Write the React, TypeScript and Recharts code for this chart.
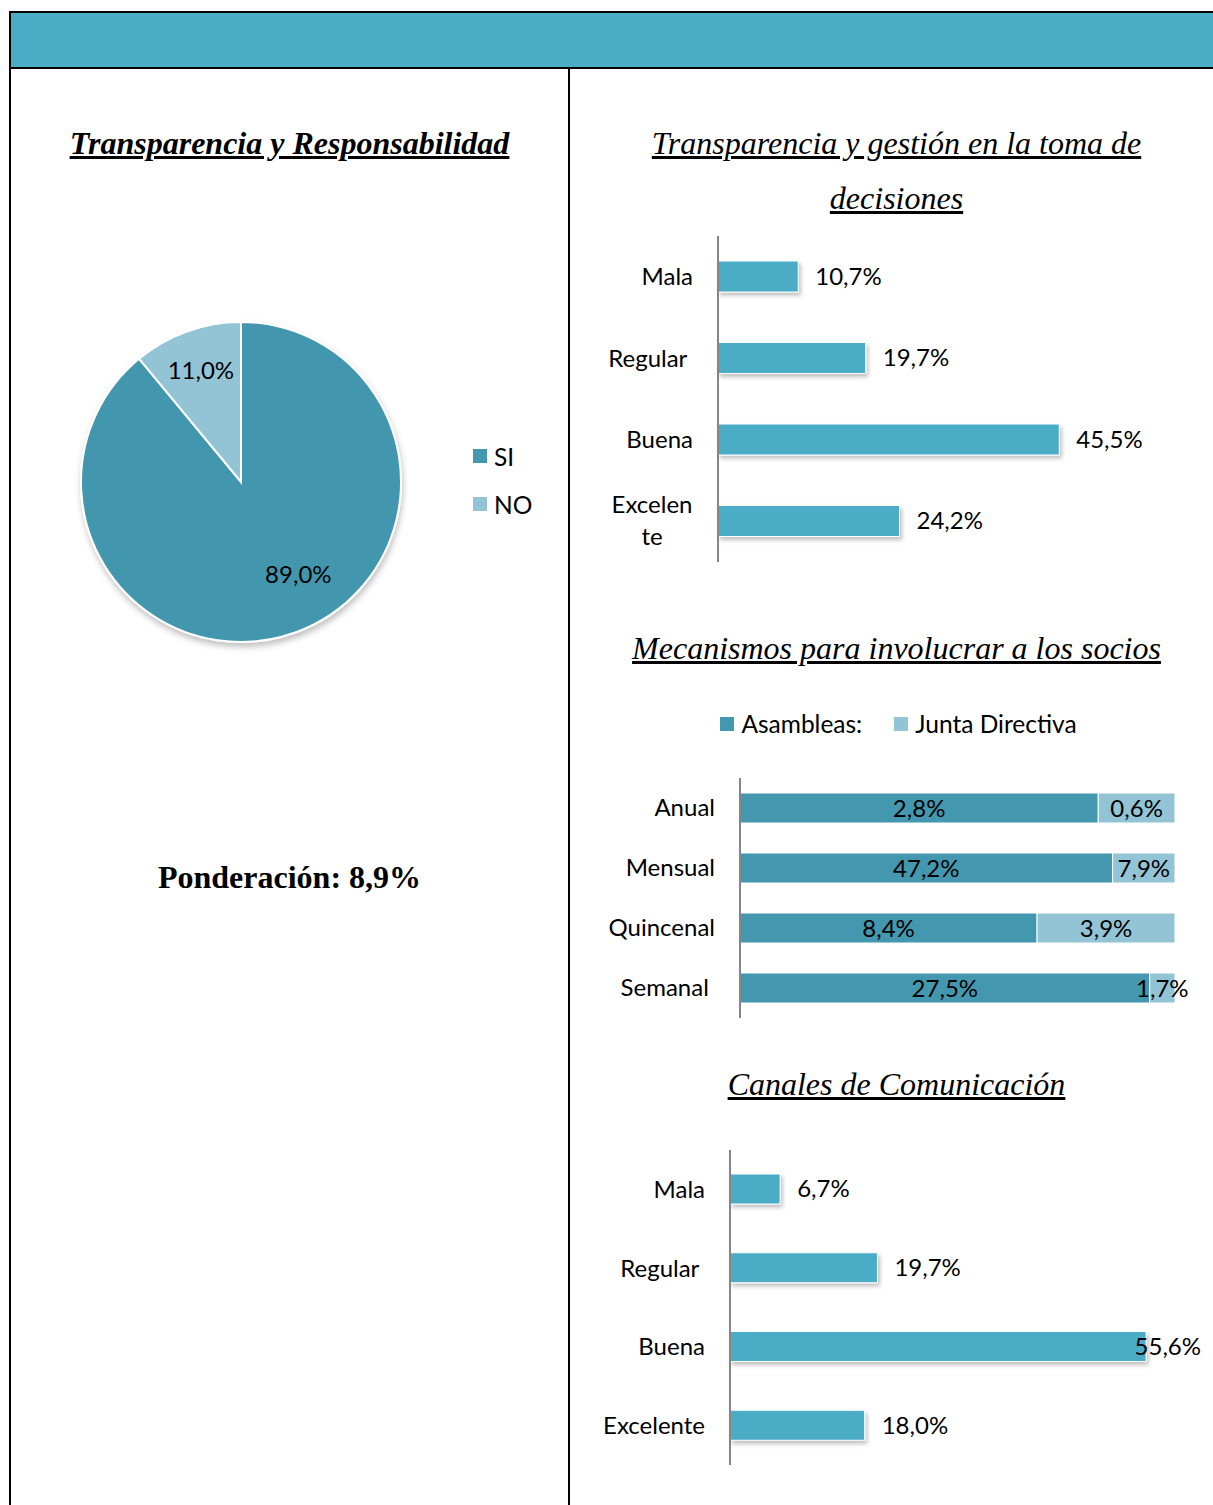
import React from 'react';
import { BarChart, Bar, XAxis, YAxis, PieChart, Pie, Cell, Legend, LabelList } from 'recharts';

const FONT = 'Lato, "Open Sans", sans-serif';
const SERIF = '"Liberation Serif", "Times New Roman", serif';

// Transparencia y Responsabilidad (pie)
const pieNames = ['SI', 'NO'];
const pieValues = [89.0, 11.0];
const pieColors = ['#4397AE', '#93C4D5'];

// Transparencia y gestión en la toma de decisiones
const gestionCats = ['Mala', 'Regular ', 'Buena', 'Excelente'];
const gestionVals = [10.7, 19.7, 45.5, 24.2];

// Mecanismos para involucrar a los socios
const mecCats = ['Anual', 'Mensual', 'Quincenal', 'Semanal '];
const asambleasVals = [2.8, 47.2, 8.4, 27.5];
const juntaVals = [0.6, 7.9, 3.9, 1.7];

// Canales de Comunicación
const canalesCats = ['Mala', 'Regular ', 'Buena', 'Excelente'];
const canalesVals = [6.7, 19.7, 55.6, 18.0];

const BAR_COLOR = '#4BACC6';
const AXIS_COLOR = '#868686';

const fmt = (v: number) => v.toFixed(1).replace('.', ',') + '%';

const pieData = pieNames.map((name, i) => ({ name, value: pieValues[i] }));
const gestionData = gestionCats.map((cat, i) => ({ cat, value: gestionVals[i] }));
const mecData = mecCats.map((cat, i) => ({ cat, asambleas: asambleasVals[i], junta: juntaVals[i] }));
const canalesData = canalesCats.map((cat, i) => ({ cat, value: canalesVals[i] }));

// category tick; long words get broken like Excel does ("Excelen" / "te")
function CatTick({ x, y, payload, wrap }: any) {
  const text: string = payload.value;
  const style = { fontFamily: FONT, fontSize: 24, fill: '#000', whiteSpace: 'pre' as const };
  if (wrap && text.length > 8) {
    const lines = [text.slice(0, 7), text.slice(7)];
    const cx = x - 41;
    return (
      <text x={cx} y={y} textAnchor="middle" style={style}>
        <tspan x={cx} dy={-8}>{lines[0]}</tspan>
        <tspan x={cx} dy={32}>{lines[1]}</tspan>
      </text>
    );
  }
  return (
    <text x={x} y={y} dy="0.35em" textAnchor="end" style={style}>
      {text}
    </text>
  );
}

// value label to the right of the bar, pulled back inside the chart if it would overflow
const makeValueLabel = (limit: number) => (props: any) => {
  const { x, y, width, height, value } = props;
  const label = fmt(value);
  let tx = x + width + 17;
  let anchor: 'start' | 'end' = 'start';
  if (tx + label.length * 13 > limit) {
    tx = limit;
    anchor = 'end';
  }
  return (
    <text x={tx} y={y + height / 2} dy="0.35em" textAnchor={anchor}
      style={{ fontFamily: FONT, fontSize: 24, fill: '#000' }}>
      {label}
    </text>
  );
};

function SquareLegend({ payload, vertical, gap, order }: any) {
  let items = [...(payload || [])];
  if (order) items.sort((a: any, b: any) => order.indexOf(a.value) - order.indexOf(b.value));
  return (
    <div style={{
      display: 'flex', flexDirection: vertical ? 'column' : 'row',
      justifyContent: 'center', gap, fontFamily: FONT, fontSize: 24.5, lineHeight: '29px',
    }}>
      {items.map((p: any) => (
        <div key={p.value} style={{ display: 'flex', alignItems: 'center' }}>
          <span style={{ display: 'inline-block', width: 14, height: 14, background: p.color, marginRight: 7 }} />
          <span>{p.value}</span>
        </div>
      ))}
    </div>
  );
}

const renderPieLabel = ({ cx, cy, midAngle, outerRadius, value, percent }: any) => {
  const RAD = Math.PI / 180;
  // big slice label sits a bit further round, like Excel's best-fit placement
  const angle = percent > 0.5 ? midAngle + 12 : midAngle;
  const r = outerRadius * (percent > 0.5 ? 0.68 : 0.74);
  const x = cx + r * Math.cos(-angle * RAD);
  const y = cy + r * Math.sin(-angle * RAD);
  return (
    <text x={x} y={y} dy="0.35em" textAnchor="middle" style={{ fontFamily: FONT, fontSize: 24, fill: '#000' }}>
      {fmt(value)}
    </text>
  );
};

const ShadowDefs = () => (
  <defs>
    <filter id="barShadow" x="-5%" y="-20%" width="115%" height="160%">
      <feDropShadow dx="2" dy="3" stdDeviation="2" floodColor="#000" floodOpacity="0.25" />
    </filter>
  </defs>
);

const titleStyle: React.CSSProperties = {
  position: 'absolute', textAlign: 'center', fontFamily: SERIF, fontStyle: 'italic',
  textDecoration: 'underline', fontSize: 32, lineHeight: '55px', color: '#000',
};

export default function App() {
  return (
    <div style={{ position: 'absolute', left: 0, top: 0, width: 1213, height: 1505, background: '#fff', overflow: 'hidden' }}>
      {/* frame */}
      <div style={{ position: 'absolute', left: 9, top: 11, width: 1210, height: 54, background: '#4BACC6', borderTop: '2px solid #000', borderBottom: '2px solid #000' }} />
      <div style={{ position: 'absolute', left: 9, top: 11, width: 2, height: 1494, background: '#000' }} />
      <div style={{ position: 'absolute', left: 568, top: 67, width: 2, height: 1438, background: '#000' }} />

      {/* left column */}
      <div style={{ ...titleStyle, left: 11, width: 557, top: 116, fontWeight: 'bold' }}>
        Transparencia y Responsabilidad
      </div>
      <div style={{ position: 'absolute', left: 11, top: 300 }}>
        <PieChart width={557} height={360} margin={{ top: 0, right: 0, bottom: 0, left: 0 }}>
          <defs>
            <filter id="pieShadow" x="-10%" y="-10%" width="125%" height="125%">
              <feDropShadow dx="1" dy="4" stdDeviation="3" floodColor="#000" floodOpacity="0.25" />
            </filter>
          </defs>
          <Pie data={pieData} dataKey="value" nameKey="name" cx={230} cy={182} outerRadius={160}
            startAngle={90} endAngle={-270} stroke="#fff" strokeWidth={2}
            label={renderPieLabel} labelLine={false} isAnimationActive={false}>
            {pieData.map((d, i) => (
              <Cell key={d.name} fill={pieColors[i]} filter={i === 0 ? 'url(#pieShadow)' : undefined} />
            ))}
          </Pie>
          <Legend layout="vertical" align="right" verticalAlign="middle"
            wrapperStyle={{ right: 'auto', left: 462 }}
            content={(p: any) => <SquareLegend payload={p.payload} vertical gap={19} order={pieNames} />} />
        </PieChart>
      </div>
      <div style={{ position: 'absolute', left: 11, width: 557, top: 855, textAlign: 'center', fontFamily: SERIF, fontWeight: 'bold', fontSize: 32, lineHeight: '44px' }}>
        Ponderación: 8,9%
      </div>

      {/* right column */}
      <div style={{ ...titleStyle, left: 570, width: 653, top: 116 }}>
        Transparencia y gestión en la toma de<br />decisiones
      </div>
      <div style={{ position: 'absolute', left: 580, top: 225 }}>
        <BarChart width={633} height={345} data={gestionData} layout="vertical"
          margin={{ top: 11, right: 120, bottom: 8, left: 0 }}>
          <ShadowDefs />
          <XAxis type="number" domain={[0, 50]} hide />
          <YAxis type="category" dataKey="cat" width={138} tickLine={false} tickSize={0} tickMargin={25}
            axisLine={{ stroke: AXIS_COLOR, strokeWidth: 2 }} tick={<CatTick wrap />} interval={0} />
          <Bar dataKey="value" fill={BAR_COLOR} barSize={31} stroke="#fff" strokeWidth={1}
            filter="url(#barShadow)" isAnimationActive={false}>
            <LabelList dataKey="value" content={makeValueLabel(633)} />
          </Bar>
        </BarChart>
      </div>

      <div style={{ ...titleStyle, left: 570, width: 653, top: 621 }}>
        Mecanismos para involucrar a los socios
      </div>
      <div style={{ position: 'absolute', left: 580, top: 700 }}>
        <BarChart width={633} height={330} data={mecData} layout="vertical" stackOffset="expand"
          margin={{ top: 8, right: 38, bottom: 12, left: 0 }}>
          <XAxis type="number" domain={[0, 1]} hide />
          <YAxis type="category" dataKey="cat" width={160} tickLine={false} tickSize={0} tickMargin={25}
            axisLine={{ stroke: AXIS_COLOR, strokeWidth: 2 }} tick={<CatTick />} interval={0} />
          <Legend verticalAlign="top" align="center"
            content={(p: any) => (
              <div style={{ height: 70, paddingTop: 1, paddingLeft: 42, boxSizing: 'border-box' }}>
                <SquareLegend payload={p.payload} gap={32} order={['Asambleas:', 'Junta Directiva']} />
              </div>
            )} />
          <Bar dataKey="asambleas" name="Asambleas:" stackId="a" fill="#4397AE" barSize={30}
            stroke="#fff" strokeWidth={1} isAnimationActive={false}>
            <LabelList dataKey="asambleas" position="center" formatter={(v: any) => fmt(Number(v))}
              style={{ fontFamily: FONT, fontSize: 24, fill: '#000' }} />
          </Bar>
          <Bar dataKey="junta" name="Junta Directiva" stackId="a" fill="#93C4D5" barSize={30}
            stroke="#fff" strokeWidth={1} isAnimationActive={false}>
            <LabelList dataKey="junta" position="center" formatter={(v: any) => fmt(Number(v))}
              style={{ fontFamily: FONT, fontSize: 24, fill: '#000' }} />
          </Bar>
        </BarChart>
      </div>

      <div style={{ ...titleStyle, left: 570, width: 653, top: 1057 }}>
        Canales de Comunicación
      </div>
      <div style={{ position: 'absolute', left: 580, top: 1140 }}>
        <BarChart width={633} height={335} data={canalesData} layout="vertical"
          margin={{ top: 10, right: 34, bottom: 10, left: 0 }}>
          <ShadowDefs />
          <XAxis type="number" domain={[0, 60]} hide />
          <YAxis type="category" dataKey="cat" width={150} tickLine={false} tickSize={0} tickMargin={25}
            axisLine={{ stroke: AXIS_COLOR, strokeWidth: 2 }} tick={<CatTick />} interval={0} />
          <Bar dataKey="value" fill={BAR_COLOR} barSize={30} stroke="#fff" strokeWidth={1}
            filter="url(#barShadow)" isAnimationActive={false}>
            <LabelList dataKey="value" content={makeValueLabel(621)} />
          </Bar>
        </BarChart>
      </div>
    </div>
  );
}
